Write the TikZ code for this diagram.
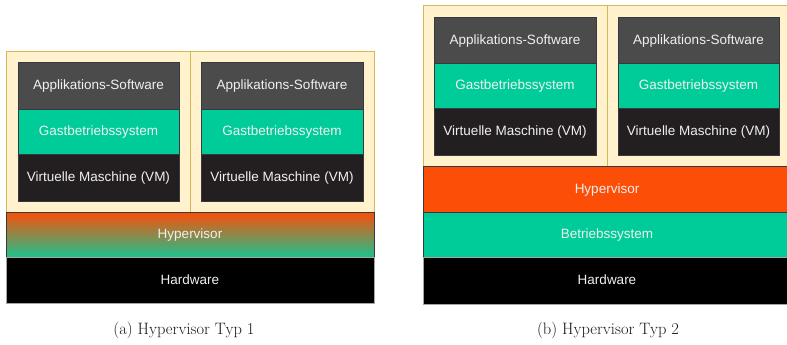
\documentclass[tikz,border=0pt]{standalone}
\usepackage{fontspec}
\setsansfont{Liberation Sans}
\usetikzlibrary{positioning}
\definecolor{creamfill}{HTML}{FFF2CC}
\definecolor{creamline}{HTML}{D6B656}
\definecolor{appgray}{HTML}{4B4B4B}
\definecolor{guestgreen}{HTML}{00CC99}
\definecolor{vmdark}{HTML}{231F20}
\definecolor{hyporange}{HTML}{FC4E07}
\definecolor{hypgreen}{HTML}{1CC28E}
\definecolor{edgegray}{HTML}{36393D}
\tikzset{
  layer/.style={rectangle, anchor=north west, inner sep=0pt, outer sep=0pt,
    draw=edgegray, line width=0.9pt, text=white!94!black,
    text height=2ex, text depth=0pt,
    font=\sffamily\fontsize{13.5}{16}\selectfont},
  hostbox/.style={rectangle, anchor=north west, inner sep=0pt, outer sep=0pt,
    draw=creamline, fill=creamfill, line width=0.9pt},
  caption/.style={font=\fontsize{16.5}{19}\selectfont, text=black!90}
}
% one layer of a stack: name, x, y, width, height, style, text
\newcommand{\lay}[7]{%
  \node[layer,#6, minimum width=#4pt, minimum height=#5pt] (#1) at (#2,#3) {#7};}
\begin{document}
\begin{tikzpicture}[x=1pt,y=-1pt]
\useasboundingbox (0,0) rectangle (787,345);
\clip (0,0) rectangle (787,345);

% ---- Typ 1 ----
\node[hostbox, minimum width=184pt, minimum height=161pt] (a-host1) at (6,51) {};
\node[hostbox, minimum width=184pt, minimum height=161pt] (a-host2) at (190,51) {};
\lay{a-app1}{18}{62}{161}{47}{fill=appgray}{Applikations-Software}
\lay{a-os1}{18}{109}{161}{45}{fill=guestgreen}{Gastbetriebssystem}
\lay{a-vm1}{18}{154}{161}{47}{fill=vmdark}{Virtuelle Maschine (VM)}
\lay{a-app2}{201}{62}{162}{47}{fill=appgray}{Applikations-Software}
\lay{a-os2}{201}{109}{162}{45}{fill=guestgreen}{Gastbetriebssystem}
\lay{a-vm2}{201}{154}{162}{47}{fill=vmdark}{Virtuelle Maschine (VM)}
\lay{a-hyp}{6}{212}{368}{45}{top color=hyporange, bottom color=hypgreen}{Hypervisor}
\lay{a-hw}{6}{257}{368}{46}{fill=black, draw=gray!70}{Hardware}

% ---- Typ 2 ----
\node[hostbox, minimum width=184pt, minimum height=161pt] (b-host1) at (423,5) {};
\node[hostbox, minimum width=184pt, minimum height=161pt] (b-host2) at (607,5) {};
\lay{b-app1}{434}{17}{162}{46}{fill=appgray}{Applikations-Software}
\lay{b-os1}{434}{63}{162}{45}{fill=guestgreen}{Gastbetriebssystem}
\lay{b-vm1}{434}{108}{162}{47}{fill=vmdark}{Virtuelle Maschine (VM)}
\lay{b-app2}{618}{17}{161}{46}{fill=appgray}{Applikations-Software}
\lay{b-os2}{618}{63}{161}{45}{fill=guestgreen}{Gastbetriebssystem}
\lay{b-vm2}{618}{108}{161}{47}{fill=vmdark}{Virtuelle Maschine (VM)}
\lay{b-hyp}{423}{166}{368}{46}{fill=hyporange}{Hypervisor}
\lay{b-os}{423}{212}{368}{45}{fill=guestgreen}{Betriebssystem}
\lay{b-hw}{423}{257}{368}{47}{fill=black, draw=gray!70}{Hardware}

% ---- captions ----
\node[caption] (cap-a) at (184,330) {(a) Hypervisor Typ 1};
\node[caption] (cap-b) at (608,330) {(b) Hypervisor Typ 2};
\end{tikzpicture}
\end{document}
